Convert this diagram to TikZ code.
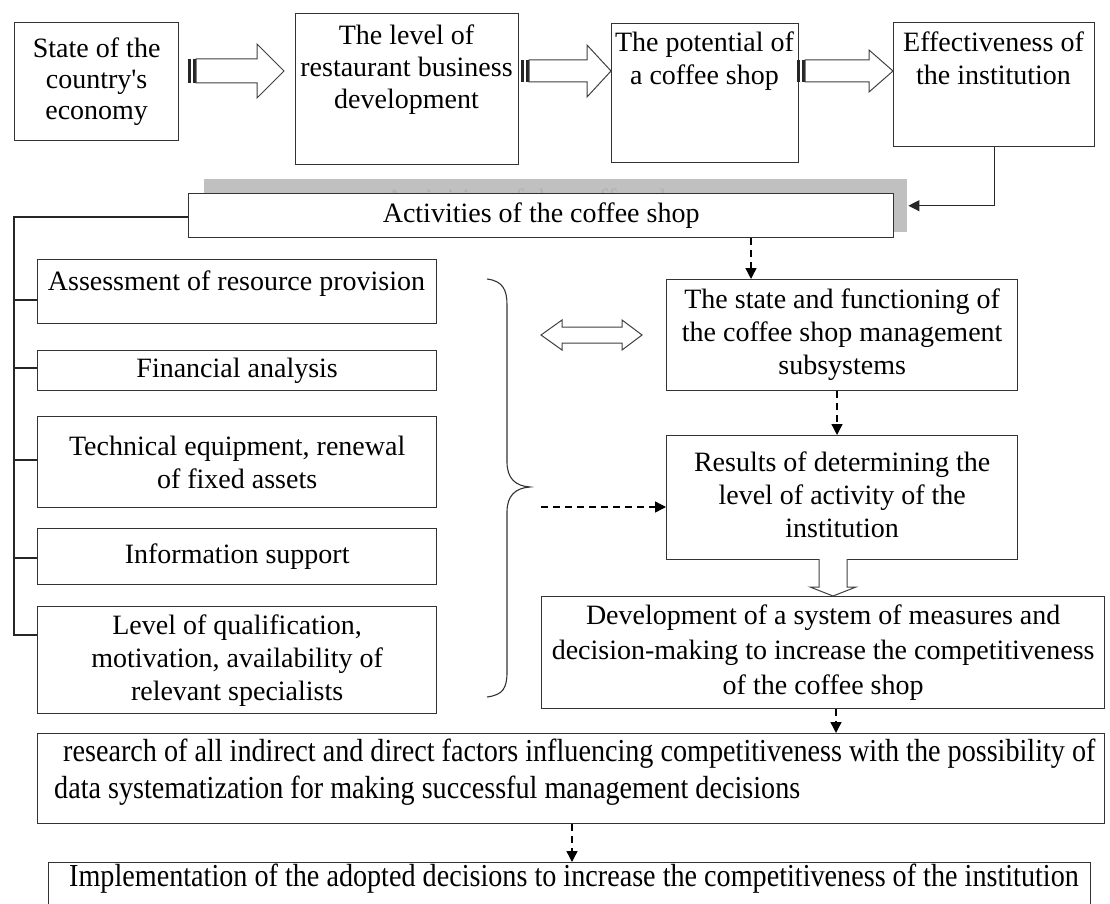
\documentclass[tikz,border=0pt]{standalone}
\usepackage{fontspec}
\setmainfont{Liberation Serif}
\newfontfamily\narrowserif[FakeStretch=0.88]{Liberation Serif}
\usetikzlibrary{arrows.meta}

% right-pointing hollow block arrow with a double bar at its tail:
% #1 tail x, #2 head base x, #3 tip x, #4 centre y, #5 half body, #6 half head
\newcommand\rblock[6]{%
  \fill[black!85] (#1,#4-#5) rectangle (#1+3,#4+#5);
  \fill[black!85] (#1+5,#4-#5) rectangle (#1+8,#4+#5);
  \draw[hollow] (#1+8,#4-#5) -- (#2,#4-#5) -- (#2,#4-#6) -- (#3,#4)
    -- (#2,#4+#6) -- (#2,#4+#5) -- (#1+8,#4+#5) -- cycle;
}

\begin{document}
\begin{tikzpicture}[x=1pt,y=-1pt,
  every node/.style={font=\fontsize{28}{33}\selectfont},
  box/.style={draw=black!80, line width=1.3pt, rectangle, inner sep=0pt,
    anchor=north west, fill=white},
  txt/.style={align=center, inner sep=0pt},
  link/.style={draw=black!85, line width=1.2pt},
  tip/.style={-{Triangle[length=11pt,width=11pt]}},
  dashlink/.style={draw=black, line width=1.4pt, dash pattern=on 7pt off 5pt,
    -{Triangle[length=11pt,width=11pt]}},
  hollow/.style={draw=black!75, line width=1pt, fill=white},
]
\clip (0,0) rectangle (1110,904);
\fill[white] (0,0) rectangle (1110,904);

% ---- top chain ----
\node[box, minimum width=164pt, minimum height=118pt] (econ) at (14,22) {};
\node[txt, font=\fontsize{28}{31}\selectfont] at (econ.center) {State of the\\country\textquotesingle s\\economy};

\node[box, minimum width=223pt, minimum height=151pt] (rest) at (295,13) {};
\node[txt, anchor=north, font=\fontsize{28}{32}\selectfont] at (406.5,25) {The level of\\restaurant business\\development};

\node[box, minimum width=187pt, minimum height=139pt] (pot) at (611,23) {};
\node[txt, anchor=north] at (704.5,32) {The potential of\\a coffee shop};

\node[box, minimum width=201pt, minimum height=124pt] (effect) at (893,22) {};
\node[txt, anchor=north] at (993.5,32) {Effectiveness of\\the institution};

\rblock{188}{257}{284}{71}{12}{27}
\rblock{521}{587}{611}{71}{11}{26}
\rblock{797}{869}{893}{71}{11}{21}

% ---- activities bar with its grey backing ----
\node[fill={rgb,255:red,192;green,192;blue,192}, inner sep=0pt, anchor=north west,
  minimum width=703pt, minimum height=53pt] (shade) at (204,179) {};
\begin{scope}
  \clip (204,179) rectangle (907,193);
  \node[txt, text=black!30] (ghost) at (543,202) {Activities of the coffee shop};
\end{scope}
\node[box, minimum width=705pt, minimum height=44pt] (acts) at (188,193) {};
\node[txt] at (acts.center) {Activities of the coffee shop};

\draw[link, tip] (effect.south) |- ([xshift=1pt]shade.east);

% ---- left column of factors ----
\node[box, minimum width=399pt, minimum height=64pt] (assess) at (37,259) {};
\node[txt, anchor=north] at (236.5,271) {Assessment of resource provision};

\node[box, minimum width=399pt, minimum height=40pt] (finance) at (37,350) {};
\node[txt] at (finance.center) {Financial analysis};

\node[box, minimum width=399pt, minimum height=91pt] (tech) at (37,416) {};
\node[txt] at (tech.center) {Technical equipment, renewal\\of fixed assets};

\node[box, minimum width=399pt, minimum height=56pt] (info) at (37,528) {};
\node[txt] at (info.center) {Information support};

\node[box, minimum width=399pt, minimum height=107pt] (qual) at (37,606) {};
\node[txt] at (qual.center) {Level of qualification,\\motivation, availability of\\relevant specialists};

\coordinate (busTop) at (14,217);
\coordinate (busEnd) at (14,635);
\draw[link] (acts.west |- busTop) -- (busTop) -- (busEnd) -- (qual.west |- busEnd);
\foreach \n/\y in {assess/300, finance/368, tech/460, info/558}
  \draw[link] (14,\y) -- (\n.west |- 0,\y);

% brace gathering the factors
\draw[black!80, line width=1.1pt] (487,279) .. controls (503,281) and (507,290) .. (507,305)
  -- (507,462) .. controls (507,478) and (515,486) .. (530,487)
  .. controls (515,488) and (507,496) .. (507,512)
  -- (507,672) .. controls (507,688) and (503,695) .. (487,697);

% ---- right column ----
\node[box, minimum width=351pt, minimum height=111pt] (state) at (666,279) {};
\node[txt] at (state.center) {The state and functioning of\\the coffee shop management\\subsystems};

\node[box, minimum width=351pt, minimum height=124pt] (result) at (666,435) {};
\node[txt] at ([yshift=3pt]result.center) {Results of determining the\\level of activity of the\\institution};

\node[box, minimum width=563pt, minimum height=112pt] (measures) at (541,596) {};
\node[txt, font=\fontsize{28}{35}\selectfont] at (measures.center) {Development of a system of measures and\\decision-making to increase the competitiveness\\of the coffee shop};

% two-way hollow arrow between brace and subsystems
\draw[hollow] (541,335) -- (562,320) -- (562,327) -- (622,327) -- (622,320) -- (642,335)
  -- (622,350) -- (622,343) -- (562,343) -- (562,350) -- cycle;

% hollow arrow down from results to measures
\draw[hollow] (819,559) -- (819,587) -- (810,587) -- (833,596) -- (856,587)
  -- (847,587) -- (847,559);

\draw[dashlink] (541,507) -- (result.west |- 0,507);
\draw[dashlink] (acts.south -| 751,0) -- (state.north -| 751,0);
\draw[dashlink] (state.south -| 837,0) -- (result.north -| 837,0);

% ---- bottom rows ----
\node[box, minimum width=1067pt, minimum height=90pt] (research) at (37,733) {};
\node[txt, align=left, anchor=north west, font=\narrowserif\fontsize{32}{37}\selectfont]
  at (54,739) {\hspace*{9pt}research of all indirect and direct factors influencing competitiveness with the possibility of\\data systematization for making successful management decisions};

\node[box, minimum width=1042pt, minimum height=80pt] (impl) at (48,862) {};
\node[txt, font=\narrowserif\fontsize{32}{37}\selectfont] at (574,879)
  {Implementation of the adopted decisions to increase the competitiveness of the institution};

\draw[dashlink] (measures.south -| 836,0) -- (research.north -| 836,0);
\draw[dashlink] (research.south -| 572,0) -- (impl.north -| 572,0);
\end{tikzpicture}
\end{document}
